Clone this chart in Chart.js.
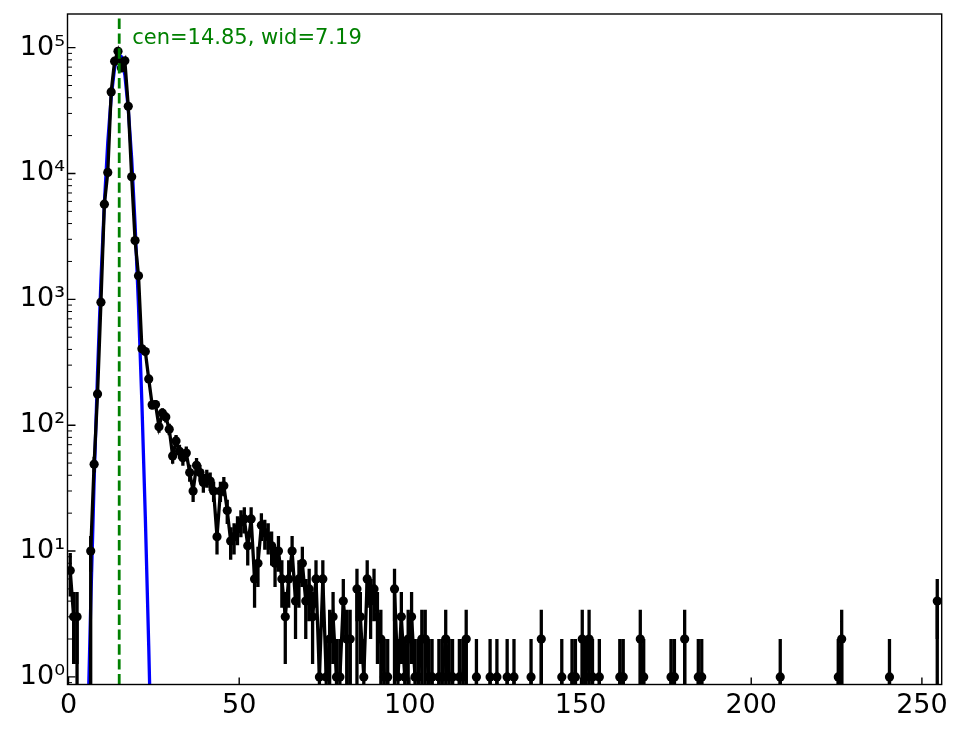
<!DOCTYPE html>
<html>
<head>
<meta charset="utf-8">
<script src="https://cdn.jsdelivr.net/npm/chart.js@4.4.1/dist/chart.umd.min.js"></script>
<style>
	html, body { margin: 0; padding: 0; background: #fff; }
	#wrap { width: 964px; height: 729px; }
</style>
</head>
<body>
<div id="wrap"><canvas id="histChart" width="964" height="729"></canvas></div>
<script>
// counts per bin, bins are 1 wide from 0 to 256
const counts = [
	7, 3, 3, 0, 0, 0, 10, 49, 177, 950,                                 // 0-9
	5700, 10200, 44500, 78000, 93500, 69000, 78500, 34200, 9400, 2930,  // 10-19
	1540, 405, 385, 233, 145, 146, 97, 125, 116, 93,                    // 20-29
	57, 75, 62, 55, 60, 42, 30, 48, 42, 35,                             // 30-39
	38, 36, 30, 13, 30, 33, 21, 12, 13, 15,                             // 40-49
	17, 18, 11, 18, 6, 8, 16, 14, 13, 11,                               // 50-59
	8, 10, 6, 3, 6, 10, 4, 6, 8, 4,                                     // 60-69
	5, 3, 6, 1, 6, 1, 2, 3, 1, 1,                                       // 70-79
	4, 2, 2, 0, 5, 3, 1, 6, 4, 5,                                       // 80-89
	3, 2, 1, 1, 0, 5, 1, 3, 1, 2,                                       // 90-99
	3, 1, 1, 2, 2, 1, 1, 0, 1, 1,                                       // 100-109
	2, 1, 1, 0, 1, 1, 2, 0, 0, 1,                                       // 110-119
	0, 0, 0, 1, 0, 1, 0, 0, 1, 0,                                       // 120-129
	1, 0, 0, 0, 0, 1, 0, 0, 2, 0,                                       // 130-139
	0, 0, 0, 0, 1, 0, 0, 1, 1, 0,                                       // 140-149
	2, 1, 2, 1, 0, 1, 0, 0, 0, 0,                                       // 150-159
	0, 1, 1, 0, 0, 0, 0, 2, 1, 0,                                       // 160-169
	0, 0, 0, 0, 0, 0, 1, 1, 0, 0,                                       // 170-179
	2, 0, 0, 0, 1, 1, 0, 0, 0, 0,                                       // 180-189
	0, 0, 0, 0, 0, 0, 0, 0, 0, 0,                                       // 190-199
	0, 0, 0, 0, 0, 0, 0, 0, 1, 0,                                       // 200-209
	0, 0, 0, 0, 0, 0, 0, 0, 0, 0,                                       // 210-219
	0, 0, 0, 0, 0, 1, 2, 0, 0, 0,                                       // 220-229
	0, 0, 0, 0, 0, 0, 0, 0, 0, 0,                                       // 230-239
	1, 0, 0, 0, 0, 0, 0, 0, 0, 0,                                       // 240-249
	0, 0, 0, 0, 4, 0                                                    // 250-255
];
// blue fit curve, read at the bin centres
const fitX = [4.5, 5.5, 6.5, 7.5, 8.5, 9.5, 10.5, 11.5, 12.5, 13.5, 14.5,
	15.5, 16.5, 17.5, 18.5, 19.5, 20.5, 21.5, 22.5, 23.5, 24.5, 25.5];
const fitY = [0.016, 0.28, 3.7, 36, 260, 1420, 5800, 17700, 40500, 69200, 88600,
	84800, 60800, 32600, 13100, 3920, 880, 148, 18.5, 1.74, 0.12, 0.0065];
const fitCen = 14.85;
const fitWid = 7.19;
const xTicks = [0, 50, 100, 150, 200, 250];
const yTickExps = [0, 1, 2, 3, 4, 5];

const binCenters = counts.map((c, i) => i + 0.5);
const sup = { '0': '⁰', '1': '¹', '2': '²', '3': '³', '4': '⁴', '5': '⁵' };

// error bars sqrt(N), drawn under the black line
const errorBars = {
	id: 'errorBars',
	beforeDatasetDraw(chart, args) {
		if (chart.data.datasets[args.index].label !== 'data') return;
		const ctx = chart.ctx;
		const a = chart.chartArea;
		const x = chart.scales.x, y = chart.scales.y;
		ctx.save();
		ctx.beginPath();
		ctx.rect(a.left, a.top, a.right - a.left, a.bottom - a.top);
		ctx.clip();
		ctx.strokeStyle = '#000';
		ctx.lineWidth = 3.3;
		ctx.beginPath();
		counts.forEach(function (c, i) {
			if (c <= 0) return;
			const e = Math.sqrt(c);
			const px = x.getPixelForValue(binCenters[i]);
			const lo = c - e > 0 ? y.getPixelForValue(c - e) : a.bottom + 10;
			ctx.moveTo(px, lo);
			ctx.lineTo(px, y.getPixelForValue(c + e));
		});
		ctx.stroke();
		ctx.restore();
	}
};

// centre line, label, inward ticks and frame
const decorations = {
	id: 'decorations',
	afterDatasetsDraw(chart) {
		const ctx = chart.ctx;
		const a = chart.chartArea;
		const x = chart.scales.x, y = chart.scales.y;
		ctx.save();

		const cx = x.getPixelForValue(fitCen);
		ctx.strokeStyle = '#008000';
		ctx.lineWidth = 2.8;
		ctx.setLineDash([10.4, 4.5]);
		ctx.beginPath();
		ctx.moveTo(cx, a.bottom);
		ctx.lineTo(cx, a.top);
		ctx.stroke();
		ctx.setLineDash([]);

		ctx.fillStyle = '#008000';
		ctx.font = '21px "DejaVu Sans"';
		ctx.textAlign = 'left';
		ctx.textBaseline = 'alphabetic';
		ctx.fillText('cen=' + fitCen.toFixed(2) + ', wid=' + fitWid.toFixed(2), cx + 13, a.top + 30);

		ctx.strokeStyle = '#000';
		ctx.lineWidth = 1.4;
		ctx.beginPath();
		xTicks.forEach(function (v) {
			const px = x.getPixelForValue(v);
			ctx.moveTo(px, a.bottom);
			ctx.lineTo(px, a.bottom - 7);
		});
		yTickExps.forEach(function (e) {
			const py = y.getPixelForValue(Math.pow(10, e));
			ctx.moveTo(a.left, py);
			ctx.lineTo(a.left + 8, py);
		});
		ctx.stroke();

		ctx.lineWidth = 1;
		ctx.beginPath();
		for (let e = -1; e <= 5; e++) {
			for (let m = 2; m <= 9; m++) {
				const v = m * Math.pow(10, e);
				if (v < y.min || v > y.max) continue;
				const py = y.getPixelForValue(v);
				ctx.moveTo(a.left, py);
				ctx.lineTo(a.left + 4.5, py);
			}
		}
		ctx.stroke();

		ctx.lineWidth = 1.4;
		ctx.strokeRect(a.left, a.top, a.right - a.left, a.bottom - a.top);
		ctx.restore();
	}
};

const ctx = document.getElementById('histChart').getContext('2d');
const chart = new Chart(ctx, {
	type: 'line',
	data: {
		datasets: [
			{
				label: 'data',
				// empty bins go far below the axis, like a clipped log plot
				data: counts.map((c, i) => ({ x: binCenters[i], y: c > 0 ? c : 1e-300 })),
				borderColor: '#000',
				borderWidth: 3.3,
				pointRadius: 4.6,
				pointBackgroundColor: '#000',
				pointBorderWidth: 0,
				tension: 0,
				order: 1
			},
			{
				label: 'fit',
				data: fitX.map((v, i) => ({ x: v, y: fitY[i] })),
				borderColor: '#0000ff',
				borderWidth: 3.3,
				pointRadius: 0,
				tension: 0,
				order: 2
			}
		]
	},
	options: {
		responsive: false,
		devicePixelRatio: 1,
		animation: false,
		layout: { padding: { top: 14, right: 22.3, left: 0, bottom: 0 } },
		plugins: { legend: { display: false }, tooltip: { enabled: false } },
		scales: {
			x: {
				type: 'linear',
				min: -0.3,
				max: 255.8,
				grid: { display: false, drawTicks: false },
				border: { display: false },
				afterBuildTicks: function (scale) {
					scale.ticks = xTicks.map(v => ({ value: v }));
				},
				afterFit: function (scale) {
					scale.height = 44.5;
					scale.paddingLeft = 0;
					scale.paddingRight = 0;
				},
				ticks: {
					color: '#000',
					padding: 5,
					maxRotation: 0,
					font: { family: 'DejaVu Sans', size: 27 }
				}
			},
			y: {
				type: 'logarithmic',
				min: 0.87,
				max: 185000,
				grid: { display: false, drawTicks: false },
				border: { display: false },
				afterBuildTicks: function (scale) {
					scale.ticks = yTickExps.map(e => ({ value: Math.pow(10, e) }));
				},
				afterFit: function (scale) {
					scale.width = 67.5;
					scale.paddingTop = 0;
					scale.paddingBottom = 0;
				},
				ticks: {
					color: '#000',
					padding: 2.5,
					font: { family: 'DejaVu Sans', size: 27 },
					callback: function (v) {
						return '10' + sup[String(Math.round(Math.log10(v)))];
					}
				}
			}
		}
	},
	plugins: [errorBars, decorations]
});
</script>
</body>
</html>
